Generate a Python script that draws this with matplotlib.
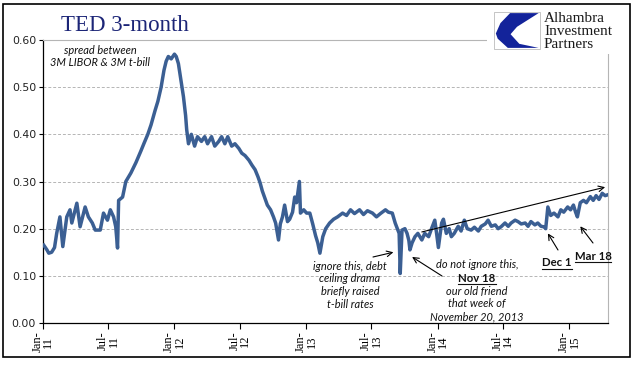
import matplotlib
matplotlib.use("Agg")
import matplotlib.pyplot as plt
import matplotlib.dates as mdates
from matplotlib.patches import Rectangle, Polygon
import pandas as pd

# TED spread (%)
dates = [
    "2011-01-03", "2011-01-12", "2011-01-17", "2011-01-25", "2011-02-02", "2011-02-08",
    "2011-02-17", "2011-02-25", "2011-03-08", "2011-03-17", "2011-03-22", "2011-04-05",
    "2011-04-14", "2011-04-28", "2011-05-07", "2011-05-18", "2011-05-26", "2011-06-09",
    "2011-06-18", "2011-06-29", "2011-07-07", "2011-07-16", "2011-07-22", "2011-07-27",
    "2011-07-30", "2011-08-10", "2011-08-19", "2011-09-02", "2011-09-16", "2011-09-30",
    "2011-10-08", "2011-10-19", "2011-10-28", "2011-11-08", "2011-11-16", "2011-11-25",
    "2011-12-03", "2011-12-09", "2011-12-15", "2011-12-23", "2012-01-01", "2012-01-06",
    "2012-01-12", "2012-01-20", "2012-01-26", "2012-02-01", "2012-02-04", "2012-02-09",
    "2012-02-17", "2012-02-26", "2012-03-05", "2012-03-16", "2012-03-25", "2012-04-02",
    "2012-04-13", "2012-04-22", "2012-05-03", "2012-05-11", "2012-05-20", "2012-05-28",
    "2012-06-08", "2012-06-17", "2012-06-28", "2012-07-06", "2012-07-15", "2012-07-26",
    "2012-08-03", "2012-08-12", "2012-08-20", "2012-08-26", "2012-09-01", "2012-09-07",
    "2012-09-15", "2012-09-24", "2012-10-02", "2012-10-08", "2012-10-16", "2012-10-21",
    "2012-10-27", "2012-11-02", "2012-11-10", "2012-11-16", "2012-11-24", "2012-11-30",
    "2012-12-05", "2012-12-13", "2012-12-16", "2012-12-25", "2013-01-02", "2013-01-11",
    "2013-01-19", "2013-01-27", "2013-02-02", "2013-02-08", "2013-02-16", "2013-02-24",
    "2013-03-07", "2013-03-18", "2013-03-29", "2013-04-12", "2013-04-23", "2013-05-04",
    "2013-05-15", "2013-05-29", "2013-06-09", "2013-06-20", "2013-07-04", "2013-07-15",
    "2013-07-26", "2013-08-09", "2013-08-17", "2013-08-28", "2013-09-05", "2013-09-11",
    "2013-09-16", "2013-09-19", "2013-09-24", "2013-10-02", "2013-10-08", "2013-10-13",
    "2013-10-16", "2013-10-22", "2013-10-30", "2013-11-07", "2013-11-18", "2013-11-26",
    "2013-12-07", "2013-12-15", "2013-12-24", "2013-12-29", "2014-01-03", "2014-01-12",
    "2014-01-17", "2014-01-25", "2014-02-02", "2014-02-08", "2014-02-16", "2014-02-27",
    "2014-03-07", "2014-03-16", "2014-03-24", "2014-04-04", "2014-04-13", "2014-04-24",
    "2014-05-02", "2014-05-13", "2014-05-21", "2014-05-30", "2014-06-10", "2014-06-18",
    "2014-06-26", "2014-07-07", "2014-07-16", "2014-07-24", "2014-08-04", "2014-08-12",
    "2014-08-21", "2014-09-01", "2014-09-09", "2014-09-17", "2014-09-28", "2014-10-06",
    "2014-10-15", "2014-10-23", "2014-10-28", "2014-11-03", "2014-11-11", "2014-11-20",
    "2014-12-01", "2014-12-09", "2014-12-17", "2014-12-28", "2015-01-05", "2015-01-13",
    "2015-01-19", "2015-01-24", "2015-02-01", "2015-02-10", "2015-02-18", "2015-03-01",
    "2015-03-09", "2015-03-17", "2015-03-25", "2015-04-03", "2015-04-11", "2015-04-19",
]
ted = [
    0.165, 0.155, 0.148, 0.150, 0.160, 0.190,
    0.225, 0.162, 0.225, 0.240, 0.212, 0.254,
    0.204, 0.246, 0.225, 0.212, 0.197, 0.197,
    0.233, 0.218, 0.240, 0.225, 0.204, 0.159,
    0.260, 0.267, 0.300, 0.318, 0.340, 0.365,
    0.380, 0.400, 0.420, 0.450, 0.470, 0.500,
    0.536, 0.555, 0.565, 0.560, 0.570, 0.565,
    0.550, 0.510, 0.480, 0.440, 0.410, 0.380,
    0.400, 0.375, 0.395, 0.385, 0.395, 0.380,
    0.395, 0.375, 0.385, 0.395, 0.380, 0.395,
    0.375, 0.380, 0.370, 0.360, 0.355, 0.345,
    0.335, 0.325, 0.310, 0.297, 0.280, 0.267,
    0.250, 0.240, 0.225, 0.212, 0.176, 0.210,
    0.225, 0.250, 0.215, 0.220, 0.235, 0.267,
    0.255, 0.300, 0.233, 0.240, 0.233, 0.233,
    0.210, 0.185, 0.170, 0.148, 0.183, 0.200,
    0.212, 0.220, 0.225, 0.233, 0.228, 0.240,
    0.232, 0.240, 0.230, 0.238, 0.233, 0.225,
    0.232, 0.240, 0.235, 0.233, 0.212, 0.200,
    0.190, 0.105, 0.197, 0.200, 0.190, 0.175,
    0.155, 0.170, 0.183, 0.190, 0.176, 0.190,
    0.183, 0.200, 0.218, 0.190, 0.160, 0.212,
    0.220, 0.190, 0.200, 0.183, 0.190, 0.205,
    0.195, 0.218, 0.200, 0.197, 0.203, 0.195,
    0.205, 0.210, 0.218, 0.205, 0.208, 0.200,
    0.204, 0.212, 0.205, 0.212, 0.218, 0.215,
    0.210, 0.212, 0.205, 0.215, 0.208, 0.212,
    0.205, 0.204, 0.200, 0.246, 0.228, 0.233,
    0.225, 0.240, 0.235, 0.246, 0.240, 0.250,
    0.235, 0.225, 0.255, 0.260, 0.255, 0.268,
    0.260, 0.270, 0.262, 0.275, 0.270, 0.272,
]
yticks = [0.0, 0.1, 0.2, 0.3, 0.4, 0.5, 0.6]

W, H = 641, 372
fig = plt.figure(figsize=(W / 100, H / 100), dpi=100)


def px(x, y):
    # pixel position in the picture -> figure fraction
    return (x / W, 1 - y / H)


ax = fig.add_axes([43 / W, 1 - 323 / H, (608 - 43) / W, (323 - 40) / H])
x = pd.to_datetime(dates)
ax.plot(x, ted, color="#3b5f93", lw=2.5, solid_joinstyle="round", zorder=3)

ax.set_ylim(0, 0.6)
ax.set_xlim(pd.Timestamp("2011-01-01"), x[-1])
ax.set_yticks(yticks)
ax.set_yticklabels([f"{v:.2f}" for v in yticks], fontsize=7.8,
                   family="DejaVu Sans", color="#222222")
for v in yticks[1:-1]:
    ax.axhline(v, color="#b5b5b5", lw=0.7, ls=(0, (3, 2)), zorder=1)

ax.xaxis.set_major_locator(mdates.MonthLocator(bymonth=[1, 7]))
ax.xaxis.set_major_formatter(mdates.DateFormatter("%b-\n%y"))
ax.tick_params(axis="x", direction="out", length=4, width=0.8, pad=2)
ax.tick_params(axis="y", direction="out", length=3, width=0.8, pad=2)
plt.setp(ax.get_xticklabels(), rotation=90, fontsize=9, family="Liberation Serif",
         ha="center", va="top", linespacing=0.85)

ax.spines["top"].set_color("#b5b5b5")
ax.spines["right"].set_color("#b5b5b5")
ax.spines["top"].set_linewidth(0.8)
ax.spines["right"].set_linewidth(0.8)
ax.spines["left"].set_linewidth(0.9)
ax.spines["bottom"].set_linewidth(0.9)

# title and caption
fig.text(*px(61, 31), "TED 3-month", family="Liberation Serif", fontsize=16.5,
         color="#1c2577", ha="left", va="baseline")
ital = dict(family="Lato", style="italic", fontsize=7.9, color="#111111",
            ha="center", va="center")
bold = dict(family="Lato", weight="bold", fontsize=8.2, color="#111111",
            ha="center", va="center")
fig.text(*px(100, 50), "spread between", **ital)
fig.text(*px(100, 63), "3M LIBOR & 3M t-bill", **ital)

# annotations
debt_lines = ["ignore this, debt", "ceiling drama", "briefly raised", "t-bill rates"]
for i, s in enumerate(debt_lines):
    fig.text(*px(350, 266 + 12.8 * i), s, **ital)

nov_lines = ["do not ignore this,", "Nov 18", "our old friend", "that week of",
             "November 20, 2013"]
underlined = []
for i, s in enumerate(nov_lines):
    if s == "Nov 18":
        underlined.append(fig.text(*px(477, 265 + 13 * i), s, **bold))
    else:
        fig.text(*px(477, 265 + 13 * i), s, **ital)
underlined.append(fig.text(*px(557, 263), "Dec 1", **bold))
underlined.append(fig.text(*px(593, 256), "Mar 18", **bold))

arrow = dict(arrowstyle="->", color="black", lw=0.8, shrinkA=0, shrinkB=0,
             mutation_scale=10)
ax.annotate("", xy=(pd.Timestamp("2013-08-31"), 0.150), xytext=px(373, 257),
            textcoords="figure fraction", arrowprops=arrow)
ax.annotate("", xy=(pd.Timestamp("2013-10-22"), 0.140), xytext=px(442, 276),
            textcoords="figure fraction", arrowprops=arrow)
ax.annotate("", xy=(pd.Timestamp("2014-11-03"), 0.190), xytext=px(558, 250),
            textcoords="figure fraction", arrowprops=arrow)
ax.annotate("", xy=(pd.Timestamp("2015-02-01"), 0.205), xytext=px(593, 243),
            textcoords="figure fraction", arrowprops=arrow)
ax.annotate("", xy=(pd.Timestamp("2015-04-11"), 0.288),
            xytext=(pd.Timestamp("2013-11-18"), 0.193), arrowprops=arrow)

# logo
logo_bg = Rectangle(px(487, 54), (622 - 487) / W, 46 / H, transform=fig.transFigure,
                    facecolor="white", edgecolor="none", zorder=5)
fig.patches.append(logo_bg)
bx0, by0, bw, bh = 494, 12, 46, 37
box = Rectangle(px(bx0, by0 + bh), bw / W, bh / H, transform=fig.transFigure,
                facecolor="white", edgecolor="#bbbbbb", lw=0.6, zorder=6)
fig.patches.append(box)
shape = [(0.35, 0.03), (0.97, 0.03), (0.5, 0.4), (0.36, 0.6), (0.55, 0.86), (0.97, 0.97),
         (0.3, 0.97), (0.08, 0.72), (0.04, 0.58), (0.14, 0.3)]
poly = Polygon([px(bx0 + u * bw, by0 + v * bh) for u, v in shape], closed=True,
               transform=fig.transFigure, facecolor="#13239a", edgecolor="none", zorder=7)
fig.patches.append(poly)
for i, s in enumerate(["Alhambra", "Investment", "Partners"]):
    fig.text(*px(544, 18 + 13.3 * i), s, family="Liberation Serif", fontsize=11,
             color="#1a1a1a", ha="left", va="center", zorder=8)

# outer frame
frame = Rectangle(px(3, 357), 627 / W, 353 / H, transform=fig.transFigure,
                  facecolor="none", edgecolor="black", lw=1.2, zorder=10)
fig.patches.append(frame)

# underline the bold labels
fig.canvas.draw()
r = fig.canvas.get_renderer()
for t in underlined:
    bb = t.get_window_extent(r)
    y = bb.y0 - 0.5
    fig.add_artist(plt.Line2D([bb.x0 / W, bb.x1 / W], [y / H, y / H], color="#111111",
                              lw=0.8, transform=fig.transFigure))

fig.savefig("out.png", dpi=100)
